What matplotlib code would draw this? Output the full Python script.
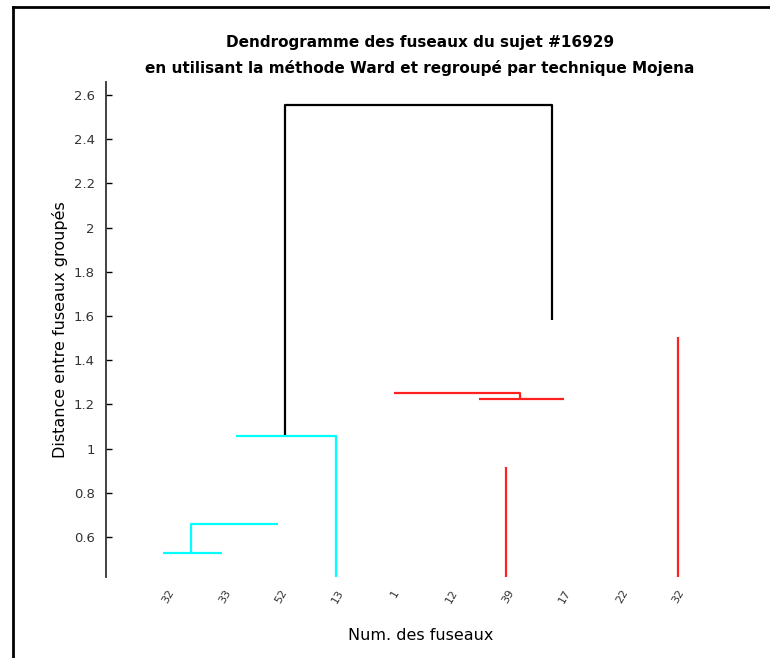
import matplotlib
matplotlib.use("Agg")
import matplotlib.pyplot as plt
from matplotlib.lines import Line2D

# leaf labels (spindle numbers)
leaf_labels = ['32', '33', '52', '13', '1', '12', '39', '17', '22', '32']
leaf_pos = list(range(1, len(leaf_labels) + 1))

# visible link segments, (x in leaf units, y in distance)
black_x = [3.06, 3.06, 7.77, 7.77]
black_y = [1.057, 2.555, 2.555, 1.582]

cyan_x = [[2.2, 3.96, 3.96], [2.94, 1.41, 1.41], [0.92, 1.95]]
cyan_y = [[1.057, 1.057, 0.42], [0.659, 0.659, 0.528], [0.528, 0.528]]

red_x = [[4.98, 7.21, 7.21], [6.48, 7.98], [6.97, 6.97], [10.0, 10.0]]
red_y = [[1.252, 1.252, 1.224], [1.224, 1.224], [0.917, 0.42], [1.505, 0.42]]

yticks = [0.6, 0.8, 1, 1.2, 1.4, 1.6, 1.8, 2, 2.2, 2.4, 2.6]

fig = plt.figure(figsize=(7.7, 6.58), dpi=100)
ax = fig.add_axes([106 / 770, 1 - 577 / 658, (735 - 106) / 770, (577 - 82) / 658])

ax.plot(black_x, black_y, color='black', lw=1.6, solid_capstyle='butt')
for xs, ys in zip(cyan_x, cyan_y):
    ax.plot(xs, ys, color='#00ffff', lw=1.6, solid_capstyle='butt')
for xs, ys in zip(red_x, red_y):
    ax.plot(xs, ys, color='#ff2020', lw=1.6, solid_capstyle='butt')

ax.set_xlim(-0.093, 11.0)
ax.set_ylim(0.419, 2.659)

ax.set_yticks(yticks)
ax.set_yticklabels([('%g' % v) for v in yticks], fontsize=9.5, color='#333333')
ax.set_xticks(leaf_pos)
ax.set_xticklabels(leaf_labels, rotation=60, fontsize=8, color='#333333',
                   ha='center', va='top')
ax.tick_params(axis='y', direction='in', length=4, width=1, pad=8)
ax.tick_params(axis='x', length=0, pad=8)

for s in ['top', 'right', 'bottom']:
    ax.spines[s].set_visible(False)
ax.spines['left'].set_linewidth(1.3)
ax.spines['left'].set_color('#333333')

ax.set_ylabel('Distance entre fuseaux groupés', fontsize=11.5, labelpad=4)
ax.set_xlabel('Num. des fuseaux', fontsize=11.5, labelpad=16)
fig.text(420 / 770, 1 - 42 / 658, 'Dendrogramme des fuseaux du sujet #16929',
         ha='center', va='center', fontsize=11, fontweight='bold')
fig.text(420 / 770, 1 - 68 / 658,
         'en utilisant la méthode Ward et regroupé par technique Mojena',
         ha='center', va='center', fontsize=11, fontweight='bold')

# partial frame round the figure (top and left edges)
fig.add_artist(Line2D([13 / 770, 13 / 770], [0, 1 - 7 / 658],
                      transform=fig.transFigure, color='black', lw=2))
fig.add_artist(Line2D([13 / 770, 1], [1 - 7 / 658, 1 - 7 / 658],
                      transform=fig.transFigure, color='black', lw=2))

fig.savefig('out.png', dpi=100)
